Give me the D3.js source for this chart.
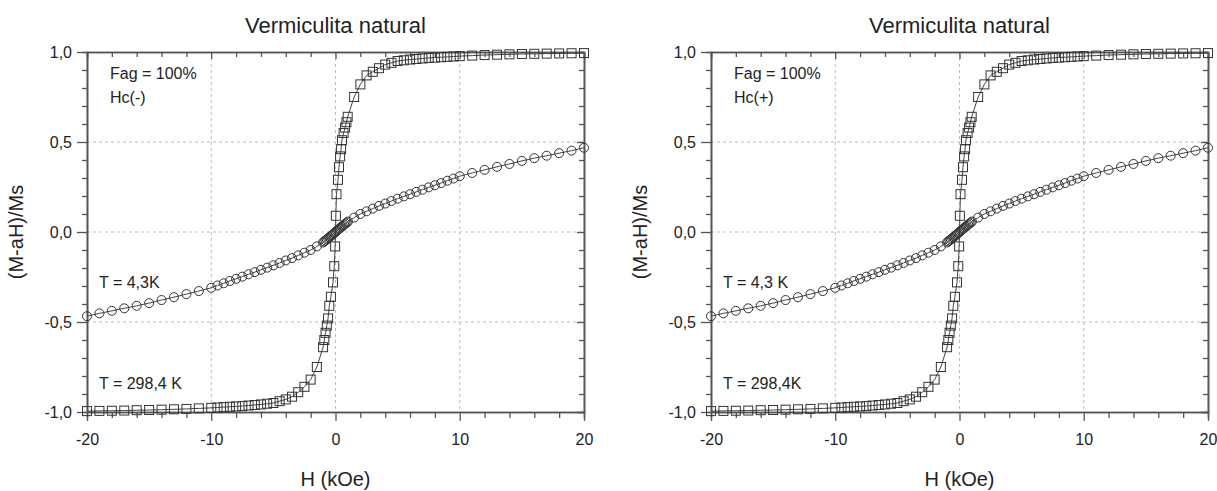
<!DOCTYPE html>
<html>
<head>
<meta charset="utf-8">
<script src="https://cdn.jsdelivr.net/npm/d3@7"></script>
<style>
  body { margin: 0; background: #fff; }
  text { font-family: Arial, "Liberation Sans", sans-serif; fill: #222; }
</style>
</head>
<body>
<div id="main-container"></div>
<script>
var width = 1217,
    height = 491

// T = 298,4 K (squares)
var H298 = [-20, -19, -18, -17, -16, -15, -14, -13, -12, -11, -10,
  -9.5, -9, -8.5, -8, -7.5, -7, -6.5, -6, -5.5, -5, -4.5, -4, -3.5, -3, -2.5, -2, -1.5,
  -1.0, -0.9, -0.8, -0.7, -0.6, -0.5, -0.37, -0.2, -0.1, -0.03,
  0.03, 0.08, 0.2, 0.28, 0.37, 0.45, 0.52, 0.65, 0.77, 0.88, 0.98,
  1.5, 2, 2.5, 3, 3.5, 4, 4.5, 5, 5.5, 6, 6.5, 7, 7.5, 8, 8.5, 9, 9.5,
  10, 11, 12, 13, 14, 15, 16, 17, 18, 19, 20]
var M298 = [-0.995, -0.994, -0.993, -0.992, -0.99, -0.989, -0.987, -0.985, -0.983, -0.98, -0.977,
  -0.975, -0.973, -0.971, -0.969, -0.967, -0.964, -0.961, -0.958, -0.954, -0.95, -0.94, -0.93, -0.915, -0.89, -0.86, -0.82, -0.75,
  -0.64, -0.60, -0.56, -0.52, -0.48, -0.41, -0.36, -0.28, -0.19, -0.08,
  0.09, 0.21, 0.29, 0.36, 0.42, 0.46, 0.51, 0.55, 0.58, 0.61, 0.64,
  0.75, 0.82, 0.87, 0.89, 0.91, 0.93, 0.94, 0.95, 0.954, 0.958, 0.961, 0.964, 0.967, 0.969, 0.971, 0.973, 0.975,
  0.977, 0.98, 0.983, 0.985, 0.987, 0.989, 0.99, 0.991, 0.992, 0.993, 0.994]

// T = 4,3 K (circles)
var H43 = [-20, -19, -18, -17, -16, -15, -14, -13, -12, -11, -10,
  -9.5, -9, -8.5, -8, -7.5, -7, -6.5, -6, -5.5, -5, -4.5, -4, -3.5, -3, -2.5, -2, -1.5,
  -1.0, -0.9, -0.8, -0.7, -0.6, -0.5, -0.4, -0.3, -0.2, -0.1, 0, 0.1, 0.2, 0.3, 0.4, 0.5, 0.6, 0.7, 0.8, 0.9, 1.0,
  1.5, 2, 2.5, 3, 3.5, 4, 4.5, 5, 5.5, 6, 6.5, 7, 7.5, 8, 8.5, 9, 9.5,
  10, 11, 12, 13, 14, 15, 16, 17, 18, 19, 20]
var M43 = [-0.468, -0.452, -0.438, -0.424, -0.41, -0.395, -0.378, -0.362, -0.345, -0.328, -0.31,
  -0.297, -0.285, -0.272, -0.26, -0.248, -0.235, -0.223, -0.21, -0.198, -0.185, -0.172, -0.158, -0.145, -0.13, -0.115, -0.1, -0.08,
  -0.058, -0.052, -0.047, -0.041, -0.035, -0.03, -0.024, -0.018, -0.012, -0.006, 0, 0.006, 0.012, 0.018, 0.024, 0.03, 0.035, 0.041, 0.047, 0.052, 0.058,
  0.08, 0.1, 0.115, 0.13, 0.145, 0.158, 0.172, 0.185, 0.198, 0.21, 0.223, 0.235, 0.248, 0.26, 0.272, 0.285, 0.297,
  0.31, 0.328, 0.345, 0.362, 0.378, 0.395, 0.41, 0.424, 0.438, 0.452, 0.468]

var xMajor = [-20, -10, 0, 10, 20]
var xTickLabels = ["-20", "-10", "0", "10", "20"]
var xMinor = [-18, -16, -14, -12, -8, -6, -4, -2, 2, 4, 6, 8, 12, 14, 16, 18]
var yMajor = [-1, -0.5, 0, 0.5, 1]
var yMinor = [-0.9, -0.8, -0.7, -0.6, -0.4, -0.3, -0.2, -0.1, 0.1, 0.2, 0.3, 0.4, 0.6, 0.7, 0.8, 0.9]
var yTickLabels = ["-1,0", "-0,5", "0,0", "0,5", "1,0"]

var panels = [
  { left: 87, title: "Vermiculita natural", notes: ["Fag = 100%", "Hc(-)"], tLow: "T = 4,3K", tHigh: "T = 298,4 K" },
  { left: 711, title: "Vermiculita natural", notes: ["Fag = 100%", "Hc(+)"], tLow: "T = 4,3 K", tHigh: "T = 298,4K" }
]

var pw = 497, ph = 360, marginTop = 52

var svg = d3.select("#main-container").append("svg")
  .attr("width", width)
  .attr("height", height)

var x = d3.scaleLinear().domain([-20, 20]).range([0, pw])
var y = d3.scaleLinear().domain([-1, 1]).range([ph, 0])

var line = d3.line()
  .x(function(d){ return x(d[0]) })
  .y(function(d){ return y(d[1]) })

var squares = H298.map(function(h, i){ return [h, M298[i]] })
var circles = H43.map(function(h, i){ return [h, M43[i]] })

var axisColor = "#555"

function styleAxis(sel){
  sel.selectAll("path").attr("stroke", axisColor).attr("stroke-width", 1.6)
  sel.selectAll("line").attr("stroke", axisColor).attr("stroke-width", 1.3)
}

panels.forEach(function(p){
  var g = svg.append("g").attr("transform", "translate(" + p.left + "," + marginTop + ")")

  // grid
  g.selectAll(".gx").data([-10, 0, 10]).enter().append("line")
    .attr("x1", function(d){ return x(d) }).attr("x2", function(d){ return x(d) })
    .attr("y1", 0).attr("y2", ph)
    .attr("stroke", "#bdbdbd").attr("stroke-dasharray", "3,3")
  g.selectAll(".gy").data([-0.5, 0, 0.5]).enter().append("line")
    .attr("y1", function(d){ return y(d) }).attr("y2", function(d){ return y(d) })
    .attr("x1", 0).attr("x2", pw)
    .attr("stroke", "#bdbdbd").attr("stroke-dasharray", "3,3")

  // axes: minor then major
  g.append("g").attr("transform", "translate(0," + ph + ")")
    .call(d3.axisBottom(x).tickValues(xMinor).tickSize(6).tickFormat(""))
    .call(styleAxis)
  g.append("g").attr("transform", "translate(0," + ph + ")")
    .call(d3.axisBottom(x).tickValues(xMajor).tickSize(9).tickSizeOuter(0)
      .tickFormat(function(d, i){ return xTickLabels[i] }))
    .call(styleAxis)
    .call(function(a){
      a.selectAll("text").attr("y", 33).attr("dy", 0)
        .style("font-size", "16px").attr("fill", "#222")
    })

  g.append("g")
    .call(d3.axisTop(x).tickValues(xMinor).tickSize(-5).tickFormat(""))
    .call(styleAxis)
  g.append("g")
    .call(d3.axisTop(x).tickValues(xMajor).tickSize(-7).tickSizeOuter(0).tickFormat(""))
    .call(styleAxis)

  g.append("g")
    .call(d3.axisLeft(y).tickValues(yMinor).tickSize(5).tickFormat(""))
    .call(styleAxis)
  g.append("g")
    .call(d3.axisLeft(y).tickValues(yMajor).tickSize(10).tickSizeOuter(0)
      .tickFormat(function(d, i){ return yTickLabels[i] }))
    .call(styleAxis)
    .call(function(a){
      a.selectAll("text").attr("x", -15).attr("dy", "0.36em")
        .style("font-size", "16px").attr("fill", "#222")
    })

  g.append("g").attr("transform", "translate(" + pw + ",0)")
    .call(d3.axisRight(y).tickValues(yMinor).tickSize(-5).tickFormat(""))
    .call(styleAxis)
  g.append("g").attr("transform", "translate(" + pw + ",0)")
    .call(d3.axisRight(y).tickValues(yMajor).tickSize(-7).tickSizeOuter(0).tickFormat(""))
    .call(styleAxis)

  // series
  g.append("path").datum(circles).attr("d", line)
    .attr("fill", "none").attr("stroke", "#444").attr("stroke-width", 1)
  g.append("path").datum(squares).attr("d", line)
    .attr("fill", "none").attr("stroke", "#444").attr("stroke-width", 1)

  g.selectAll(".circ").data(circles).enter().append("circle")
    .attr("cx", function(d){ return x(d[0]) })
    .attr("cy", function(d){ return y(d[1]) })
    .attr("r", 4.5)
    .attr("fill", "none").attr("stroke", "#333").attr("stroke-width", 1)

  g.selectAll(".sq").data(squares).enter().append("rect")
    .attr("x", function(d){ return x(d[0]) - 4.5 })
    .attr("y", function(d){ return y(d[1]) - 4.5 })
    .attr("width", 9).attr("height", 9)
    .attr("fill", "none").attr("stroke", "#333").attr("stroke-width", 1)

  // texts
  g.append("text").attr("x", pw / 2).attr("y", -19)
    .attr("text-anchor", "middle").style("font-size", "22px").text(p.title)
  g.append("text").attr("x", pw / 2).attr("y", ph + 74)
    .attr("text-anchor", "middle").style("font-size", "20px").text("H (kOe)")
  g.append("text").attr("transform", "translate(-64," + (ph / 2) + ") rotate(-90)")
    .attr("text-anchor", "middle").style("font-size", "20px").text("(M-aH)/Ms")

  g.append("text").attr("x", 23).attr("y", 27).style("font-size", "16px").text(p.notes[0])
  g.append("text").attr("x", 23).attr("y", 51).style("font-size", "16px").text(p.notes[1])
  g.append("text").attr("x", 12).attr("y", 236).style("font-size", "16px").text(p.tLow)
  g.append("text").attr("x", 12).attr("y", 337).style("font-size", "16px").text(p.tHigh)
})
</script>
</body>
</html>
